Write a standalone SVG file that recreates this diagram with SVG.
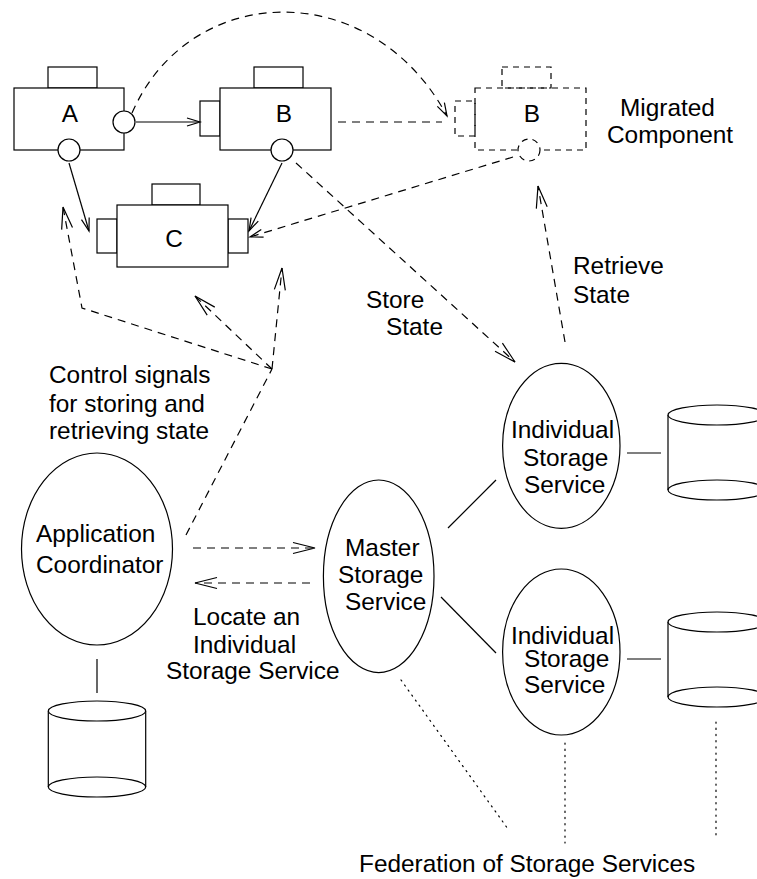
<svg xmlns="http://www.w3.org/2000/svg" width="757" height="879" viewBox="0 0 757 879">
<style>
.s{stroke:#000;stroke-width:1.2;fill:none}
.f{stroke:#000;stroke-width:1.2;fill:#fff}
.d{stroke-dasharray:8 6}
.dm{stroke-dasharray:6 5}
.dot{stroke-dasharray:1.2 5;stroke-linecap:round}
text{font-family:"Liberation Sans",Arial,Helvetica,sans-serif;font-size:24.4px;fill:#000}
.c{text-anchor:middle}
</style>
<defs>
<marker id="ah" markerUnits="userSpaceOnUse" markerWidth="16" markerHeight="10" refX="13" refY="4" orient="auto" overflow="visible">
<path d="M0,0 L13,4 L0,8" fill="none" stroke="#000" stroke-width="1.2"/>
</marker>
<marker id="ahb" markerUnits="userSpaceOnUse" markerWidth="24" markerHeight="12" refX="22" refY="5.5" orient="auto" overflow="visible">
<path d="M0,0 L22,5.5 L0,11" fill="none" stroke="#000" stroke-width="1.2"/>
</marker>
</defs>
<rect width="757" height="879" fill="#fff"/>

<g id="compA">
<rect class="f" x="48" y="67" width="49" height="21"/>
<rect class="f" x="14" y="88" width="110" height="62"/>
<circle class="f" cx="124" cy="122" r="11"/>
<circle class="f" cx="69" cy="150" r="11"/>
<text class="c" x="70" y="122">A</text>
</g>
<g id="compB">
<rect class="f" x="254" y="67" width="49" height="21"/>
<rect class="f" x="200" y="101" width="20" height="35"/>
<rect class="f" x="220" y="88" width="111" height="62"/>
<circle class="f" cx="282" cy="150" r="11"/>
<text class="c" x="284" y="122">B</text>
</g>
<g id="compC">
<rect class="f" x="152" y="184" width="48" height="21"/>
<rect class="f" x="97" y="219" width="20" height="34"/>
<rect class="f" x="228" y="219" width="20" height="34"/>
<rect class="f" x="117" y="205" width="111" height="62"/>
<text class="c" x="174" y="247">C</text>
</g>
<g id="compBmigrated">
<rect class="s dm" x="502" y="67" width="49" height="21"/>
<rect class="s dm" x="455" y="101" width="20" height="35"/>
<rect class="s dm" x="475" y="88" width="111" height="62"/>
<circle class="f dm" cx="529" cy="150" r="11"/>
<text class="c" x="532" y="122">B</text>
</g>
<g id="migratedLabel">
<text x="620" y="116">Migrated</text>
<text x="607" y="143">Component</text>
</g>

<g id="appCoordinator">
<ellipse class="f" cx="97" cy="549" rx="75.5" ry="96"/>
<text x="36" y="542">Application</text>
<text x="36" y="573">Coordinator</text>
</g>
<g id="appStore">
<ellipse class="f" cx="97" cy="787" rx="48.7" ry="10"/>
<line class="s" x1="48.3" y1="711" x2="48.3" y2="787"/>
<line class="s" x1="145.7" y1="711" x2="145.7" y2="787"/>
<ellipse class="f" cx="97" cy="711" rx="48.7" ry="10"/>
</g>
<g id="masterStorage">
<ellipse class="f" cx="378.7" cy="576.3" rx="55.3" ry="96.3"/>
<text x="345" y="556">Master</text>
<text x="338" y="583">Storage</text>
<text x="345" y="610">Service</text>
</g>
<g id="individualStorage1">
<ellipse class="f" cx="561.3" cy="445.8" rx="58.7" ry="82.5"/>
<text x="511" y="438">Individual</text>
<text x="523" y="466">Storage</text>
<text x="524" y="493">Service</text>
</g>
<g id="store1">
<ellipse class="f" cx="717" cy="490" rx="49" ry="10"/>
<line class="s" x1="668" y1="415" x2="668" y2="490"/>
<ellipse class="f" cx="717" cy="415" rx="49" ry="10"/>
</g>
<g id="individualStorage2">
<ellipse class="f" cx="561.3" cy="652" rx="58.7" ry="83"/>
<text x="511" y="644">Individual</text>
<text x="524" y="667">Storage</text>
<text x="524" y="693">Service</text>
</g>
<g id="store2">
<ellipse class="f" cx="717" cy="697" rx="49" ry="10"/>
<line class="s" x1="668" y1="622" x2="668" y2="697"/>
<ellipse class="f" cx="717" cy="622" rx="49" ry="10"/>
</g>

<g id="labels">
<text x="366" y="308">Store</text>
<text x="386" y="335">State</text>
<text x="573" y="274">Retrieve</text>
<text x="573" y="303">State</text>
<text x="49" y="383">Control signals</text>
<text x="49" y="412">for storing and</text>
<text x="49" y="439">retrieving state</text>
<text x="193" y="625">Locate an</text>
<text x="193" y="653">Individual</text>
<text x="166" y="679">Storage Service</text>
<text x="359" y="872">Federation of Storage Services</text>
</g>

<g id="connectors">
<line class="s" x1="136" y1="122" x2="200" y2="122" marker-end="url(#ah)"/>
<line class="s" x1="69" y1="163" x2="89" y2="231" marker-end="url(#ah)"/>
<line class="s" x1="282" y1="163" x2="249" y2="231" marker-end="url(#ah)"/>
<path class="s d" d="M132,113 C190,-20 372,-24 447,116" marker-end="url(#ah)"/>
<line class="s d" x1="338" y1="122" x2="442" y2="122"/>
<line class="s d" x1="513" y1="157" x2="250" y2="237" marker-end="url(#ah)"/>
<line class="s d" x1="296" y1="163" x2="515" y2="362" marker-end="url(#ahb)"/>
<line class="s d" x1="565" y1="342" x2="538" y2="186" marker-end="url(#ahb)"/>
<line class="s d" x1="186" y1="535" x2="272" y2="369"/>
<polyline class="s d" points="272,369 82,308 63,207" marker-end="url(#ahb)"/>
<line class="s d" x1="272" y1="369" x2="195" y2="296" marker-end="url(#ahb)"/>
<line class="s d" x1="272" y1="369" x2="282" y2="268" marker-end="url(#ahb)"/>
<line class="s d" x1="193" y1="548" x2="315" y2="548" marker-end="url(#ahb)"/>
<line class="s d" x1="310" y1="583" x2="195" y2="583" marker-end="url(#ahb)"/>
<line class="s" x1="448" y1="528" x2="496" y2="480"/>
<line class="s" x1="441" y1="597" x2="496" y2="653"/>
<line class="s" x1="627" y1="453" x2="661" y2="453"/>
<line class="s" x1="627" y1="659" x2="661" y2="659"/>
<line class="s" x1="97" y1="659" x2="97" y2="693"/>
<line class="s dot" x1="401" y1="680" x2="508" y2="829"/>
<line class="s dot" x1="565" y1="743" x2="565" y2="843"/>
<line class="s dot" x1="716" y1="722" x2="716" y2="838"/>
</g>
</svg>
